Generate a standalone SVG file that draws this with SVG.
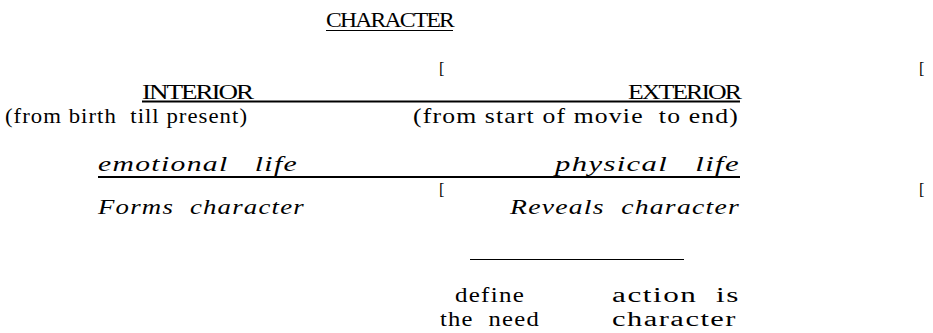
<svg xmlns="http://www.w3.org/2000/svg" width="933" height="333" viewBox="0 0 933 333">
<style>
text{white-space:pre}
.cap{font-family:"Liberation Serif",serif;font-size:20px;fill:#000;letter-spacing:-1.5px}
.up{font-family:"Liberation Serif",serif;font-size:22px;fill:#000;letter-spacing:1px}
.sm{font-family:"Liberation Serif",serif;font-size:20px;fill:#000;letter-spacing:1px}
.it{font-family:"Liberation Serif",serif;font-size:22px;font-style:italic;fill:#000;letter-spacing:1px}
.mk{font-family:"Liberation Serif",serif;font-size:16px;fill:#000}
.rule{stroke:#000;stroke-width:2;fill:none}
.thin{stroke:#000;stroke-width:1.2;fill:none}
</style>
<rect width="933" height="333" fill="#fff"/>
<g id="character">
<text class="cap" x="326" y="27" textLength="127" lengthAdjust="spacingAndGlyphs">CHARACTER</text>
</g>
<g id="marks">
<text class="mk" x="439" y="74">[</text>
<text class="mk" x="919" y="74">[</text>
<text class="mk" x="439" y="195">[</text>
<text class="mk" x="919" y="195">[</text>
</g>
<g id="interior">
<text class="cap" x="142" y="99" textLength="110" lengthAdjust="spacingAndGlyphs">INTERIOR</text>
<text class="up" x="5" y="123" textLength="243" lengthAdjust="spacingAndGlyphs">(from birth  till present)</text>
<text class="it" x="98" y="171" textLength="200" lengthAdjust="spacingAndGlyphs">emotional   life</text>
<text class="it" x="98" y="214" textLength="207" lengthAdjust="spacingAndGlyphs">Forms  character</text>
<text class="sm" x="455" y="302" textLength="70" lengthAdjust="spacingAndGlyphs">define</text>
<text class="sm" x="440" y="326" textLength="100" lengthAdjust="spacingAndGlyphs">the  need</text>
</g>
<g id="exterior">
<text class="cap" x="628" y="99" textLength="112" lengthAdjust="spacingAndGlyphs">EXTERIOR</text>
<text class="up" x="413" y="123" textLength="326" lengthAdjust="spacingAndGlyphs">(from start of movie  to end)</text>
<text class="it" x="555" y="171" textLength="185" lengthAdjust="spacingAndGlyphs">physical   life</text>
<text class="it" x="510" y="214" textLength="230" lengthAdjust="spacingAndGlyphs">Reveals  character</text>
<text class="sm" x="612" y="302" textLength="128" lengthAdjust="spacingAndGlyphs">action  is</text>
<text class="sm" x="612" y="326" textLength="125" lengthAdjust="spacingAndGlyphs">character</text>
</g>
<g id="connectors">
<line class="thin" x1="326" y1="30.5" x2="453" y2="30.5"/>
<line class="rule" x1="142" y1="101.5" x2="740" y2="101.5"/>
<line class="rule" x1="98" y1="177" x2="740" y2="177"/>
<line class="thin" x1="470" y1="259.5" x2="684" y2="259.5"/>
</g>
</svg>
